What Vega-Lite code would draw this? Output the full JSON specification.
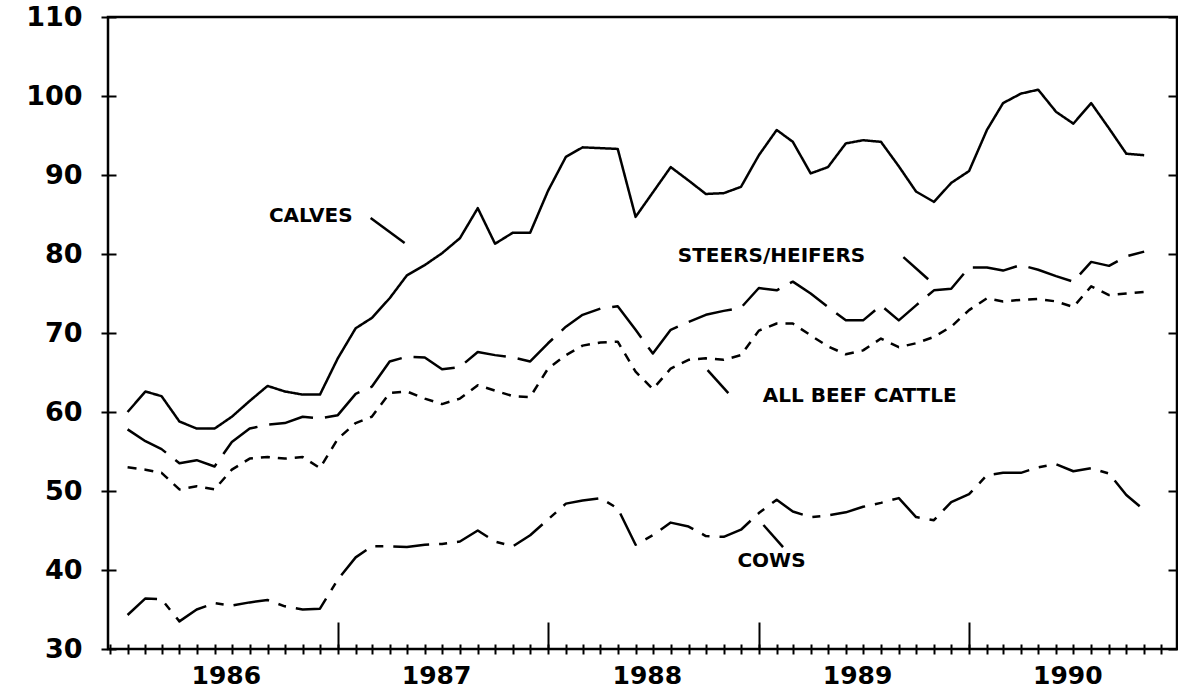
{
  "$schema": "https://vega.github.io/schema/vega-lite/v6.json",
  "width": 1069,
  "height": 632,
  "autosize": {"type": "none"},
  "padding": {"left": 108, "top": 17, "right": 1, "bottom": 40},
  "background": "white",
  "config": {
    "view": {"stroke": "black", "strokeWidth": 2.5},
    "font": "DejaVu Sans",
    "axis": {"domain": false, "grid": false, "tickColor": "black", "tickWidth": 2, "labelColor": "black", "labelFont": "DejaVu Sans", "labelFontWeight": "bold", "title": null}
  },
  "resolve": {"axis": {"x": "independent", "y": "independent"}},
  "layer": [
    {
      "data": {"values": [
        {"date": "1986-01-01", "Calves": 60.0, "Steers/Heifers": 57.8, "All beef cattle": 53.0, "Cows": 34.3},
        {"date": "1986-02-01", "Calves": 62.6, "Steers/Heifers": 56.3, "All beef cattle": 52.7, "Cows": 36.4},
        {"date": "1986-03-01", "Calves": 62.0, "Steers/Heifers": 55.3, "All beef cattle": 52.3, "Cows": 36.3},
        {"date": "1986-04-01", "Calves": 58.8, "Steers/Heifers": 53.5, "All beef cattle": 50.2, "Cows": 33.5},
        {"date": "1986-05-01", "Calves": 57.9, "Steers/Heifers": 53.9, "All beef cattle": 50.6, "Cows": 35.0},
        {"date": "1986-06-01", "Calves": 57.9, "Steers/Heifers": 53.1, "All beef cattle": 50.2, "Cows": 35.8},
        {"date": "1986-07-01", "Calves": 59.4, "Steers/Heifers": 56.2, "All beef cattle": 52.7, "Cows": 35.5},
        {"date": "1986-08-01", "Calves": 61.4, "Steers/Heifers": 57.9, "All beef cattle": 54.1, "Cows": 35.9},
        {"date": "1986-09-01", "Calves": 63.3, "Steers/Heifers": 58.4, "All beef cattle": 54.3, "Cows": 36.2},
        {"date": "1986-10-01", "Calves": 62.6, "Steers/Heifers": 58.6, "All beef cattle": 54.1, "Cows": 35.4},
        {"date": "1986-11-01", "Calves": 62.2, "Steers/Heifers": 59.4, "All beef cattle": 54.3, "Cows": 35.0},
        {"date": "1986-12-01", "Calves": 62.2, "Steers/Heifers": 59.2, "All beef cattle": 52.9, "Cows": 35.1},
        {"date": "1987-01-01", "Calves": 66.8, "Steers/Heifers": 59.6, "All beef cattle": 56.6, "Cows": 38.8},
        {"date": "1987-02-01", "Calves": 70.6, "Steers/Heifers": 62.3, "All beef cattle": 58.6, "Cows": 41.6},
        {"date": "1987-03-01", "Calves": 71.9, "Steers/Heifers": 63.2, "All beef cattle": 59.4, "Cows": 43.0},
        {"date": "1987-04-01", "Calves": 74.4, "Steers/Heifers": 66.4, "All beef cattle": 62.4, "Cows": 43.0},
        {"date": "1987-05-01", "Calves": 77.3, "Steers/Heifers": 67.0, "All beef cattle": 62.6, "Cows": 42.9},
        {"date": "1987-06-01", "Calves": 78.6, "Steers/Heifers": 66.9, "All beef cattle": 61.7, "Cows": 43.2},
        {"date": "1987-07-01", "Calves": 80.1, "Steers/Heifers": 65.4, "All beef cattle": 61.0, "Cows": 43.3},
        {"date": "1987-08-01", "Calves": 82.0, "Steers/Heifers": 65.7, "All beef cattle": 61.7, "Cows": 43.6},
        {"date": "1987-09-01", "Calves": 85.8, "Steers/Heifers": 67.6, "All beef cattle": 63.4, "Cows": 45.0},
        {"date": "1987-10-01", "Calves": 81.3, "Steers/Heifers": 67.2, "All beef cattle": 62.7, "Cows": 43.6},
        {"date": "1987-11-01", "Calves": 82.7, "Steers/Heifers": 66.9, "All beef cattle": 62.0, "Cows": 43.0},
        {"date": "1987-12-01", "Calves": 82.7, "Steers/Heifers": 66.4, "All beef cattle": 61.9, "Cows": 44.4},
        {"date": "1988-01-01", "Calves": 88.0, "Steers/Heifers": 68.7, "All beef cattle": 65.5, "Cows": 46.4},
        {"date": "1988-02-01", "Calves": 92.3, "Steers/Heifers": 70.8, "All beef cattle": 67.2, "Cows": 48.4},
        {"date": "1988-03-01", "Calves": 93.5, "Steers/Heifers": 72.3, "All beef cattle": 68.4, "Cows": 48.8},
        {"date": "1988-04-01", "Calves": 93.4, "Steers/Heifers": 73.1, "All beef cattle": 68.8, "Cows": 49.1},
        {"date": "1988-05-01", "Calves": 93.3, "Steers/Heifers": 73.4, "All beef cattle": 68.9, "Cows": 47.8},
        {"date": "1988-06-01", "Calves": 84.7, "Steers/Heifers": 70.4, "All beef cattle": 65.1, "Cows": 43.2},
        {"date": "1988-07-01", "Calves": 87.8, "Steers/Heifers": 67.4, "All beef cattle": 62.9, "Cows": 44.4},
        {"date": "1988-08-01", "Calves": 91.0, "Steers/Heifers": 70.4, "All beef cattle": 65.5, "Cows": 46.0},
        {"date": "1988-09-01", "Calves": 89.3, "Steers/Heifers": 71.4, "All beef cattle": 66.6, "Cows": 45.5},
        {"date": "1988-10-01", "Calves": 87.6, "Steers/Heifers": 72.3, "All beef cattle": 66.8, "Cows": 44.3},
        {"date": "1988-11-01", "Calves": 87.7, "Steers/Heifers": 72.8, "All beef cattle": 66.6, "Cows": 44.2},
        {"date": "1988-12-01", "Calves": 88.5, "Steers/Heifers": 73.2, "All beef cattle": 67.2, "Cows": 45.1},
        {"date": "1989-01-01", "Calves": 92.5, "Steers/Heifers": 75.7, "All beef cattle": 70.3, "Cows": 47.2},
        {"date": "1989-02-01", "Calves": 95.7, "Steers/Heifers": 75.4, "All beef cattle": 71.2, "Cows": 48.9},
        {"date": "1989-03-01", "Calves": 94.2, "Steers/Heifers": 76.5, "All beef cattle": 71.2, "Cows": 47.4},
        {"date": "1989-04-01", "Calves": 90.2, "Steers/Heifers": 75.0, "All beef cattle": 69.7, "Cows": 46.7},
        {"date": "1989-05-01", "Calves": 91.0, "Steers/Heifers": 73.3, "All beef cattle": 68.3, "Cows": 46.9},
        {"date": "1989-06-01", "Calves": 94.0, "Steers/Heifers": 71.6, "All beef cattle": 67.3, "Cows": 47.3},
        {"date": "1989-07-01", "Calves": 94.4, "Steers/Heifers": 71.6, "All beef cattle": 67.8, "Cows": 48.0},
        {"date": "1989-08-01", "Calves": 94.2, "Steers/Heifers": 73.5, "All beef cattle": 69.3, "Cows": 48.5},
        {"date": "1989-09-01", "Calves": 91.1, "Steers/Heifers": 71.6, "All beef cattle": 68.2, "Cows": 49.1},
        {"date": "1989-10-01", "Calves": 87.9, "Steers/Heifers": 73.5, "All beef cattle": 68.7, "Cows": 46.7},
        {"date": "1989-11-01", "Calves": 86.6, "Steers/Heifers": 75.4, "All beef cattle": 69.5, "Cows": 46.3},
        {"date": "1989-12-01", "Calves": 89.0, "Steers/Heifers": 75.6, "All beef cattle": 70.8, "Cows": 48.6},
        {"date": "1990-01-01", "Calves": 90.5, "Steers/Heifers": 78.3, "All beef cattle": 72.9, "Cows": 49.6},
        {"date": "1990-02-01", "Calves": 95.7, "Steers/Heifers": 78.3, "All beef cattle": 74.4, "Cows": 52.0},
        {"date": "1990-03-01", "Calves": 99.1, "Steers/Heifers": 77.9, "All beef cattle": 74.0, "Cows": 52.3},
        {"date": "1990-04-01", "Calves": 100.3, "Steers/Heifers": 78.6, "All beef cattle": 74.2, "Cows": 52.3},
        {"date": "1990-05-01", "Calves": 100.8, "Steers/Heifers": 78.0, "All beef cattle": 74.3, "Cows": 53.0},
        {"date": "1990-06-01", "Calves": 98.0, "Steers/Heifers": 77.2, "All beef cattle": 74.0, "Cows": 53.4},
        {"date": "1990-07-01", "Calves": 96.5, "Steers/Heifers": 76.5, "All beef cattle": 73.3, "Cows": 52.5},
        {"date": "1990-08-01", "Calves": 99.1, "Steers/Heifers": 79.0, "All beef cattle": 75.9, "Cows": 52.9},
        {"date": "1990-09-01", "Calves": 95.9, "Steers/Heifers": 78.5, "All beef cattle": 74.8, "Cows": 52.2},
        {"date": "1990-10-01", "Calves": 92.7, "Steers/Heifers": 79.7, "All beef cattle": 75.0, "Cows": 49.5},
        {"date": "1990-11-01", "Calves": 92.5, "Steers/Heifers": 80.3, "All beef cattle": 75.2, "Cows": 47.6}
      ]},
      "transform": [{"fold": ["Calves", "Steers/Heifers", "All beef cattle", "Cows"], "as": ["series", "value"]}],
      "mark": {"type": "line", "color": "black", "strokeWidth": 2.5, "strokeJoin": "round", "strokeCap": "butt"},
      "encoding": {
        "x": {
          "field": "date", "type": "temporal",
          "scale": {"type": "utc", "domain": [{"year": 1985, "month": 11, "date": 28, "utc": true}, {"year": 1990, "month": 12, "date": 28, "utc": true}]},
          "axis": {"orient": "bottom", "tickCount": {"interval": "month", "step": 1}, "tickSize": 5, "labelExpr": "utcmonth(datum.value) == 6 ? utcFormat(datum.value, '%Y') : ''", "labelOffset": -6, "labelPadding": 9, "labelFontSize": 25, "labelOverlap": false, "labelFlush": false}
        },
        "y": {
          "field": "value", "type": "quantitative",
          "scale": {"domain": [30, 110], "nice": false, "zero": false},
          "axis": {"orient": "left", "values": [30, 40, 50, 60, 70, 80, 90, 100, 110], "tickSize": 7, "labelPadding": 19, "labelFontSize": 27}
        },
        "strokeDash": {
          "field": "series", "type": "nominal",
          "scale": {"domain": ["Calves", "Steers/Heifers", "All beef cattle", "Cows"], "range": [[1, 0], [45, 12], [9, 8], [36, 10, 8, 10]]},
          "legend": null
        }
      }
    },
    {
      "data": {"values": [
        {"label": "CALVES", "date": "1986-11-15", "value": 84.8},
        {"label": "STEERS/HEIFERS", "date": "1989-01-23", "value": 79.75},
        {"label": "ALL BEEF CATTLE", "date": "1989-06-25", "value": 62.0},
        {"label": "COWS", "date": "1989-01-23", "value": 41.1}
      ]},
      "mark": {"type": "text", "font": "DejaVu Sans", "fontWeight": "bold", "fontSize": 20, "align": "center", "baseline": "middle", "color": "black"},
      "encoding": {
        "x": {"field": "date", "type": "temporal", "axis": {"orient": "bottom", "tickCount": {"interval": "month", "step": 1}, "tickSize": -5, "labels": false}},
        "y": {"field": "value", "type": "quantitative", "axis": {"orient": "left", "values": [30, 40, 50, 60, 70, 80, 90, 100, 110], "tickSize": -8, "labels": false}},
        "text": {"field": "label"}
      }
    },
    {
      "data": {"values": [
        {"date": "1987-02-27", "date2": "1987-04-27", "value": 84.56, "value2": 81.4},
        {"date": "1989-09-09", "date2": "1989-10-22", "value": 79.6, "value2": 76.8},
        {"date": "1988-10-04", "date2": "1988-11-09", "value": 65.3, "value2": 62.4},
        {"date": "1989-01-09", "date2": "1989-02-12", "value": 45.7, "value2": 42.9}
      ]},
      "mark": {"type": "rule", "color": "black", "strokeWidth": 2.5},
      "encoding": {
        "x": {"field": "date", "type": "temporal", "axis": {"orient": "bottom", "values": [{"year": 1987, "month": 1, "date": 1, "utc": true}, {"year": 1988, "month": 1, "date": 1, "utc": true}, {"year": 1989, "month": 1, "date": 1, "utc": true}, {"year": 1990, "month": 1, "date": 1, "utc": true}], "tickSize": -27, "labels": false}},
        "x2": {"field": "date2"},
        "y": {"field": "value", "type": "quantitative", "axis": {"orient": "right", "values": [30, 40, 50, 60, 70, 80, 90, 100, 110], "tickSize": -9, "labels": false}},
        "y2": {"field": "value2"}
      }
    }
  ]
}
